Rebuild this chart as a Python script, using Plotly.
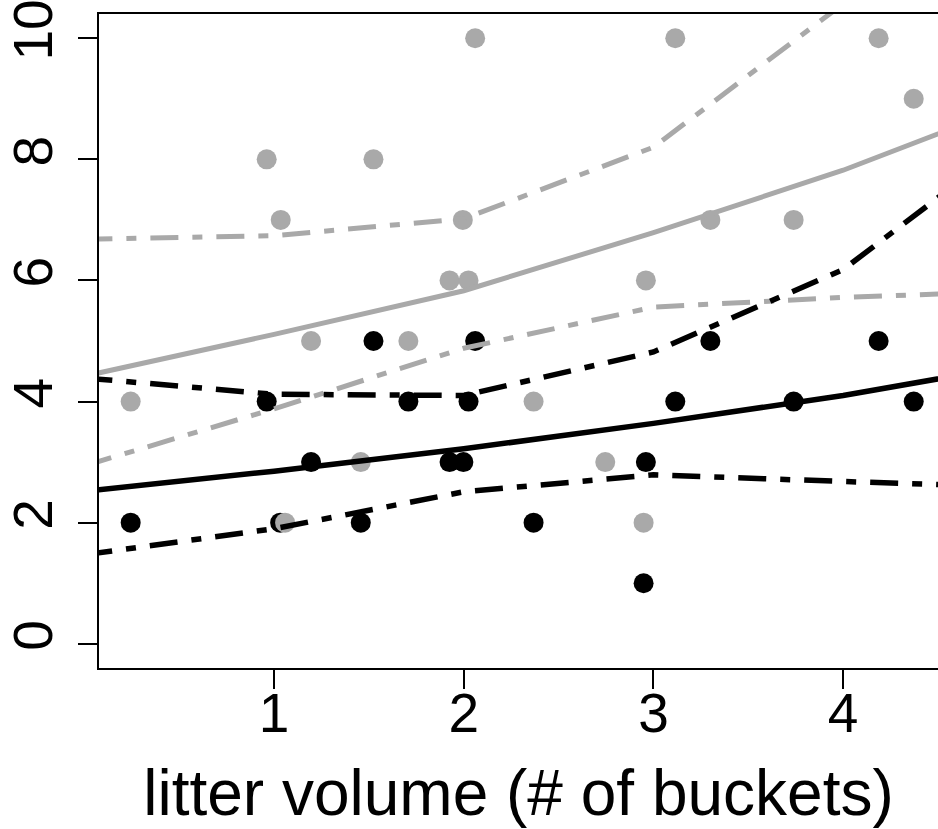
import plotly.graph_objects as go

# ---- data ----
x_grey = [0.244, 0.961, 1.035, 1.058, 1.195, 1.457, 1.524, 1.708, 1.925, 1.995, 2.025,
          2.060, 2.368, 2.746, 2.948, 2.960, 3.115, 3.300, 3.739, 4.187, 4.372]
y_grey = [4, 8, 7, 2, 5, 3, 8, 5, 6, 7, 6, 10, 4, 3, 2, 6, 10, 7, 7, 10, 9]

x_black = [0.244, 0.961, 1.032, 1.195, 1.457, 1.524, 1.708, 1.925, 1.998, 2.025,
           2.060, 2.368, 2.948, 2.960, 3.115, 3.300, 3.739, 4.187, 4.372]
y_black = [2, 4, 2, 3, 2, 5, 4, 3, 3, 4, 5, 2, 1, 3, 4, 5, 4, 5, 4]

x_fit = [0, 1, 2, 3, 4, 5]
grey_fit = [4.42, 5.11, 5.83, 6.79, 7.82, 9.02]
grey_upper = [6.68, 6.74, 7.02, 8.20, 10.57, 14.0]
grey_lower = [2.94, 3.88, 4.88, 5.56, 5.72, 5.83]
black_fit = [2.52, 2.85, 3.22, 3.64, 4.10, 4.65]
black_upper = [4.39, 4.12, 4.10, 4.82, 6.18, 8.55]
black_lower = [1.47, 1.90, 2.51, 2.79, 2.68, 2.58]

x_ticks = [1, 2, 3, 4]
y_ticks = [0, 2, 4, 6, 8, 10]

GREY = "#a9a9a9"
BLACK = "#000000"
DASHDOT = "28px,14px,10px,14px"

fig = go.Figure()

fig.add_trace(go.Scatter(x=x_black, y=y_black, mode="markers",
                         marker=dict(size=20, color=BLACK, line=dict(width=0)),
                         cliponaxis=False))
fig.add_trace(go.Scatter(x=x_grey, y=y_grey, mode="markers",
                         marker=dict(size=20, color=GREY, line=dict(width=0)),
                         cliponaxis=False))

for yv, dash in [(grey_fit, "solid"), (grey_upper, DASHDOT), (grey_lower, DASHDOT)]:
    fig.add_trace(go.Scatter(x=x_fit, y=yv, mode="lines",
                             line=dict(color=GREY, width=5, dash=dash)))
for yv, dash in [(black_fit, "solid"), (black_upper, DASHDOT), (black_lower, DASHDOT)]:
    fig.add_trace(go.Scatter(x=x_fit, y=yv, mode="lines",
                             line=dict(color=BLACK, width=5.5, dash=dash)))

axis_font = dict(family="Liberation Sans, Arial, sans-serif", size=55, color="black")

fig.update_layout(
    width=938, height=829,
    margin=dict(l=99, r=0, t=14, b=161),
    paper_bgcolor="white", plot_bgcolor="white",
    showlegend=False,
    xaxis=dict(range=[0.077, 4.5], tickvals=x_ticks, ticktext=[str(v) for v in x_ticks],
               automargin=False, ticklabeloverflow="allow",
               showgrid=False, zeroline=False, showline=True, mirror=True,
               linecolor="black", linewidth=2, ticks="outside", ticklen=19,
               tickwidth=2, tickcolor="black", tickfont=axis_font,
               ticklabelstandoff=-23,
               title=dict(text="litter volume (# of buckets)",
                          font=dict(family="Liberation Sans, Arial, sans-serif", size=64, color="black"),
                          standoff=28)),
    yaxis=dict(range=[-0.4, 10.4], tickvals=y_ticks, ticktext=[str(v) for v in y_ticks],
               automargin=False, ticklabeloverflow="allow",
               showgrid=False, zeroline=False, showline=True, mirror=False,
               linecolor="black", linewidth=2, ticks="outside", ticklen=19,
               tickwidth=2, tickcolor="black", tickfont=axis_font, tickangle=-90,
               ticklabelstandoff=4),
)

fig.write_html("out.html",
               config={"displayModeBar": False},
               post_script="document.body.style.margin='0';document.body.style.overflow='hidden';")
